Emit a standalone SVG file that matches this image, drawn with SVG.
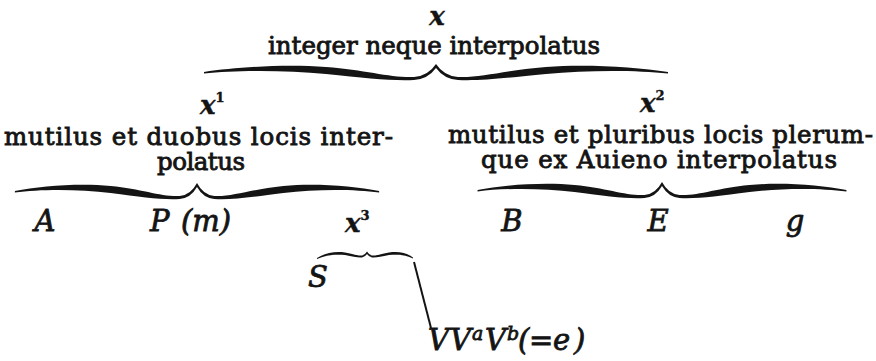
<svg xmlns="http://www.w3.org/2000/svg" xmlns:xlink="http://www.w3.org/1999/xlink" width="876" height="361" viewBox="0 0 876 361">
<style>
text { font-family: "DejaVu Serif", "Liberation Serif", serif; fill: #141414; stroke: #141414; }
.rm { font-size: 24.5px; stroke-width: 0.85px; }
.it { font-size: 29px; font-style: italic; stroke-width: 0.8px; }
.xb { font-size: 26px; font-style: italic; font-weight: bold; stroke-width: 0.4px; }
.sup { font-size: 13px; font-style: normal; font-weight: bold; }
.supi { font-size: 19px; font-style: italic; }
.brace { fill: #141414; }
.line { stroke: #141414; stroke-width: 2; fill: none; }
</style>
<defs>
<path id="brace" d="M-232,8 C-200,3 -150,0 -110,3 C-70,6 -45,14 -22,13 Q-8,12 0,0 Q8,12 22,13 C45,14 70,6 110,3 C150,0 200,3 232,8 L232,9.5 C200,6 150,6 110,10 C70,14 45,17 22,16 Q8,15 0,4 Q-8,15 -22,16 C-45,17 -70,14 -110,10 C-150,6 -200,6 -232,9.5 Z"/>
</defs>
<rect width="876" height="361" fill="#ffffff"/>
<g id="connectors">
<use xlink:href="#brace" class="brace" transform="translate(436,64)"/>
<use xlink:href="#brace" class="brace" transform="translate(197,183) scale(0.785,1)"/>
<use xlink:href="#brace" class="brace" transform="translate(662,182) scale(0.795,1)"/>
<path class="brace" d="M317,258 C325,253 335,251 345,252.5 C353,254 358,256 362,255.5 Q365,255 367,251.5 Q369,255 372,255.5 C376,256 381,254 389,252.5 C399,251 407,253 413,257.5 L413,258.5 C407,255 399,254 389,255 C381,256.5 376,258 372,257.5 Q369,257 367,254 Q365,257 362,257.5 C358,258 353,256.5 345,255 C335,254 325,255 317,259 Z"/>
<line class="line" x1="414" y1="262" x2="431" y2="328"/>
</g>
<g id="n-x">
<text class="xb" x="437" y="25" text-anchor="middle">x</text>
<text class="rm" x="268" y="54" textLength="332" lengthAdjust="spacing">integer neque interpolatus</text>
</g>
<g id="n-x1">
<text class="xb" x="200" y="114">x<tspan class="sup" dy="-12">1</tspan></text>
<text class="rm" x="4" y="145" textLength="389" lengthAdjust="spacing">mutilus et duobus locis inter-</text>
<text class="rm" x="157" y="170" textLength="88" lengthAdjust="spacing">polatus</text>
</g>
<g id="n-x2">
<text class="xb" x="640" y="112">x<tspan class="sup" dy="-12">2</tspan></text>
<text class="rm" x="448" y="143" textLength="425" lengthAdjust="spacing">mutilus et pluribus locis plerum-</text>
<text class="rm" x="481" y="168" textLength="356" lengthAdjust="spacing">que ex Auieno interpolatus</text>
</g>
<g id="n-A"><text class="it" x="45" y="231" text-anchor="middle">A</text></g>
<g id="n-P"><text class="it" x="150" y="231">P<tspan x="181">(m)</tspan></text></g>
<g id="n-x3"><text class="xb" x="345" y="232">x<tspan class="sup" dy="-12">3</tspan></text></g>
<g id="n-B"><text class="it" x="512" y="231" text-anchor="middle">B</text></g>
<g id="n-E"><text class="it" x="658" y="231" text-anchor="middle">E</text></g>
<g id="n-g"><text class="it" x="795" y="231" text-anchor="middle">g</text></g>
<g id="n-S"><text class="it" x="318" y="287" text-anchor="middle">S</text></g>
<g id="n-V">
<text class="it" x="428" y="350">V<tspan x="450">V</tspan><tspan class="supi" x="472" dy="-10">a</tspan><tspan x="485" dy="10">V</tspan><tspan class="supi" x="507" dy="-10">b</tspan><tspan x="518" dy="10">(</tspan><tspan x="529">=</tspan><tspan x="553">e</tspan><tspan x="574">)</tspan></text>
</g>
</svg>
